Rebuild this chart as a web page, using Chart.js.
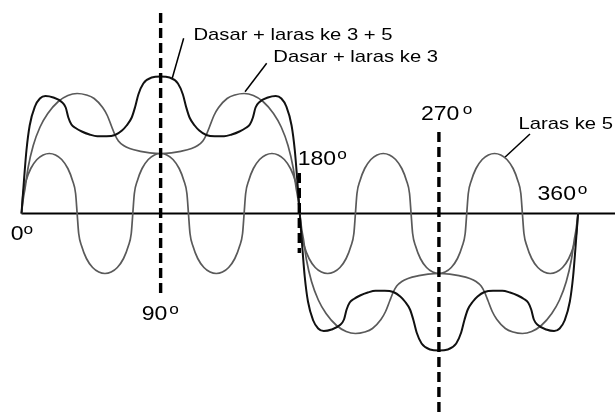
<!DOCTYPE html>
<html>
<head>
<meta charset="utf-8">
<script src="https://cdn.jsdelivr.net/npm/chart.js@4/dist/chart.umd.min.js"></script>
<style>
  html, body { margin: 0; padding: 0; background: #fff; }
</style>
</head>
<body>
<canvas id="wave" width="615" height="414"></canvas>
<script>
// degrees along the axis, amplitude in arbitrary units
const dasar35 = [
  [0,0],[1.6,0.33],[3.2,0.63],[5.3,0.88],[8.7,1.07],[11.9,1.15],[15.5,1.175],[20.6,1.16],[26,1.115],[28.6,1.06],
  [30.3,0.96],[32.3,0.89],[35,0.855],[39,0.82],[44,0.79],[49,0.772],[55,0.772],[60.5,0.785],[65,0.83],[68,0.88],
  [71.3,0.96],[73.4,1.06],[75.6,1.19],[78.8,1.30],[84.2,1.36],[90,1.37],[95.8,1.36],[101.2,1.30],[104.4,1.19],
  [106.6,1.06],[108.7,0.96],[112,0.88],[115,0.83],[119.5,0.785],[125,0.772],[131,0.772],[136,0.79],[141,0.82],
  [145,0.855],[147.7,0.89],[149.7,0.96],[151.4,1.06],[154,1.115],[159.4,1.16],[164.5,1.175],[168.1,1.15],
  [171.3,1.07],[174.7,0.88],[176.8,0.63],[178.4,0.33],[180,0],
  [181.6,-0.33],[183.2,-0.63],[185.3,-0.88],[188.7,-1.07],[191.9,-1.15],[195.5,-1.175],[200.6,-1.16],[206,-1.115],
  [208.6,-1.06],[210.3,-0.96],[212.3,-0.89],[215,-0.855],[219,-0.82],[224,-0.79],[229,-0.772],[235,-0.772],
  [240.5,-0.785],[245,-0.83],[248,-0.88],[251.3,-0.96],[253.4,-1.06],[255.6,-1.19],[258.8,-1.30],[264.2,-1.36],
  [270,-1.37],[275.8,-1.36],[281.2,-1.30],[284.4,-1.19],[286.6,-1.06],[288.7,-0.96],[292,-0.88],[295,-0.83],
  [299.5,-0.785],[305,-0.772],[311,-0.772],[316,-0.79],[321,-0.82],[325,-0.855],[327.7,-0.89],[329.7,-0.96],
  [331.4,-1.06],[334,-1.115],[339.4,-1.16],[344.5,-1.175],[348.1,-1.15],[351.3,-1.07],[354.7,-0.88],
  [356.8,-0.63],[358.4,-0.33],[360,0]
];

const dasar3 = [
  [0,0],[1.2,0.15],[2.3,0.25],[4.3,0.46],[7.6,0.68],[12,0.865],[17,1.0],[23.8,1.12],[30,1.18],[36,1.20],
  [42,1.185],[47,1.15],[52.5,1.06],[55.5,0.98],[58.3,0.87],[60.5,0.785],[62.7,0.725],[66,0.68],[70,0.65],
  [77,0.622],[83,0.607],[90,0.60],[97,0.607],[103,0.622],[110,0.65],[114,0.68],[117.3,0.725],[119.5,0.785],
  [121.7,0.87],[124.5,0.98],[127.5,1.06],[133,1.15],[138,1.185],[144,1.20],[150,1.18],[156.2,1.12],[163,1.0],
  [168,0.865],[172.4,0.68],[175.7,0.46],[177.7,0.25],[178.8,0.15],[180,0],
  [181.2,-0.15],[182.3,-0.25],[184.3,-0.46],[187.6,-0.68],[192,-0.865],[197,-1.0],[203.8,-1.12],[210,-1.18],
  [216,-1.20],[222,-1.185],[227,-1.15],[232.5,-1.06],[235.5,-0.98],[238.3,-0.87],[240.5,-0.785],[242.7,-0.725],
  [246,-0.68],[250,-0.65],[257,-0.622],[263,-0.607],[270,-0.60],[277,-0.607],[283,-0.622],[290,-0.65],
  [294,-0.68],[297.3,-0.725],[299.5,-0.785],[301.7,-0.87],[304.5,-0.98],[307.5,-1.06],[313,-1.15],[318,-1.185],
  [324,-1.20],[330,-1.18],[336.2,-1.12],[343,-1.0],[348,-0.865],[352.4,-0.68],[355.7,-0.46],[357.7,-0.25],
  [358.8,-0.15],[360,0]
];

const laras5 = [
  [0,0],[1,0.20],[3,0.33],[6,0.45],[10,0.54],[14,0.585],[18,0.60],[22,0.585],[26,0.54],[30,0.45],[33,0.33],[35,0.20],
  [36,0],[37,-0.20],[39,-0.33],[42,-0.45],[46,-0.54],[50,-0.585],[54,-0.60],[58,-0.585],[62,-0.54],[66,-0.45],[69,-0.33],[71,-0.20],
  [72,0],[73,0.20],[75,0.33],[78,0.45],[82,0.54],[86,0.585],[90,0.60],[94,0.585],[98,0.54],[102,0.45],[105,0.33],[107,0.20],
  [108,0],[109,-0.20],[111,-0.33],[114,-0.45],[118,-0.54],[122,-0.585],[126,-0.60],[130,-0.585],[134,-0.54],[138,-0.45],[141,-0.33],[143,-0.20],
  [144,0],[145,0.20],[147,0.33],[150,0.45],[154,0.54],[158,0.585],[162,0.60],[166,0.585],[170,0.54],[174,0.45],[177,0.33],[179,0.20],
  [180,0],[181,-0.20],[183,-0.33],[186,-0.45],[190,-0.54],[194,-0.585],[198,-0.60],[202,-0.585],[206,-0.54],[210,-0.45],[213,-0.33],[215,-0.20],
  [216,0],[217,0.20],[219,0.33],[222,0.45],[226,0.54],[230,0.585],[234,0.60],[238,0.585],[242,0.54],[246,0.45],[249,0.33],[251,0.20],
  [252,0],[253,-0.20],[255,-0.33],[258,-0.45],[262,-0.54],[266,-0.585],[270,-0.60],[274,-0.585],[278,-0.54],[282,-0.45],[285,-0.33],[287,-0.20],
  [288,0],[289,0.20],[291,0.33],[294,0.45],[298,0.54],[302,0.585],[306,0.60],[310,0.585],[314,0.54],[318,0.45],[321,0.33],[323,0.20],
  [324,0],[325,-0.20],[327,-0.33],[330,-0.45],[334,-0.54],[338,-0.585],[342,-0.60],[346,-0.585],[350,-0.54],[354,-0.45],[357,-0.33],[359,-0.20],
  [360,0]
];

// dashed guides: [degree, top, bottom]
const guides = [[90, 2.005, -0.805], [179.7, 0.405, -0.395], [270, 0.815, -2.02]];

// degree labels and where they sit
const degreeText = ['0', '90', '180', '270', '360'];
const degreeAt = [[-6.9, -0.265], [77.8, -1.065], [178.7, 0.485], [258.4, 0.935], [333.8, 0.135]];
const degreeGap = [0, 1.6, 1, 3, 1.7];

const curveNames = ['Dasar + laras ke 3 + 5', 'Dasar + laras ke 3', 'Laras ke 5'];
const nameAt = [[111.2, 1.732], [162.9, 1.512], [321.5, 0.842]];
const leaders = [
  [[104.9, 1.752], [97.5, 1.352]],
  [[158.6, 1.502], [144.6, 1.218]],
  [[328.9, 0.795], [312.7, 0.562]]
];

const toXY = arr => arr.map(p => ({ x: p[0], y: p[1] }));

const datasets = [];
guides.forEach(g => {
  datasets.push({
    data: [{ x: g[0], y: g[1] }, { x: g[0], y: g[2] }],
    borderColor: '#000', borderWidth: 3.4, borderDash: [10, 5], tension: 0
  });
});
datasets.push({ data: toXY(dasar35), borderColor: '#111', borderWidth: 2, cubicInterpolationMode: 'monotone' });
datasets.push({ data: toXY(dasar3), borderColor: '#5a5a5a', borderWidth: 1.7, cubicInterpolationMode: 'monotone' });
datasets.push({ data: toXY(laras5), borderColor: '#5a5a5a', borderWidth: 1.7, cubicInterpolationMode: 'monotone' });
leaders.forEach(l => {
  datasets.push({ data: toXY(l), borderColor: '#000', borderWidth: 1.5, tension: 0 });
});
// horizontal axis
datasets.push({ data: [{ x: 0, y: 0 }, { x: 383.9, y: 0 }], borderColor: '#000', borderWidth: 1.8, tension: 0 });

const labelPlugin = {
  id: 'waveLabels',
  afterDatasetsDraw(chart) {
    const { ctx, scales: { x, y } } = chart;
    ctx.save();
    ctx.fillStyle = '#000';
    ctx.textBaseline = 'alphabetic';
    degreeText.forEach((t, i) => {
      ctx.save();
      ctx.translate(x.getPixelForValue(degreeAt[i][0]), y.getPixelForValue(degreeAt[i][1]));
      ctx.scale(1.15, 1);
      ctx.font = '20px "Liberation Sans", Arial, sans-serif';
      ctx.fillText(t, 0, 0);
      const w = ctx.measureText(t).width;
      ctx.font = '15px "Liberation Sans", Arial, sans-serif';
      ctx.fillText('o', w + degreeGap[i], -6);
      ctx.restore();
    });
    curveNames.forEach((t, i) => {
      ctx.save();
      ctx.translate(x.getPixelForValue(nameAt[i][0]), y.getPixelForValue(nameAt[i][1]));
      ctx.scale(1.19, 1);
      ctx.font = '17px "Liberation Sans", Arial, sans-serif';
      ctx.fillText(t, 0, 0);
      ctx.restore();
    });
    ctx.restore();
  }
};

new Chart(document.getElementById('wave'), {
  type: 'line',
  data: { datasets: datasets },
  options: {
    responsive: false,
    animation: false,
    layout: { padding: 0 },
    elements: { point: { radius: 0 }, line: { fill: false } },
    scales: {
      x: { type: 'linear', min: -13.9, max: 383.9, display: false },
      y: { min: -2.005, max: 2.135, display: false }
    },
    plugins: { legend: { display: false }, tooltip: { enabled: false } }
  },
  plugins: [labelPlugin]
});
</script>
</body>
</html>
